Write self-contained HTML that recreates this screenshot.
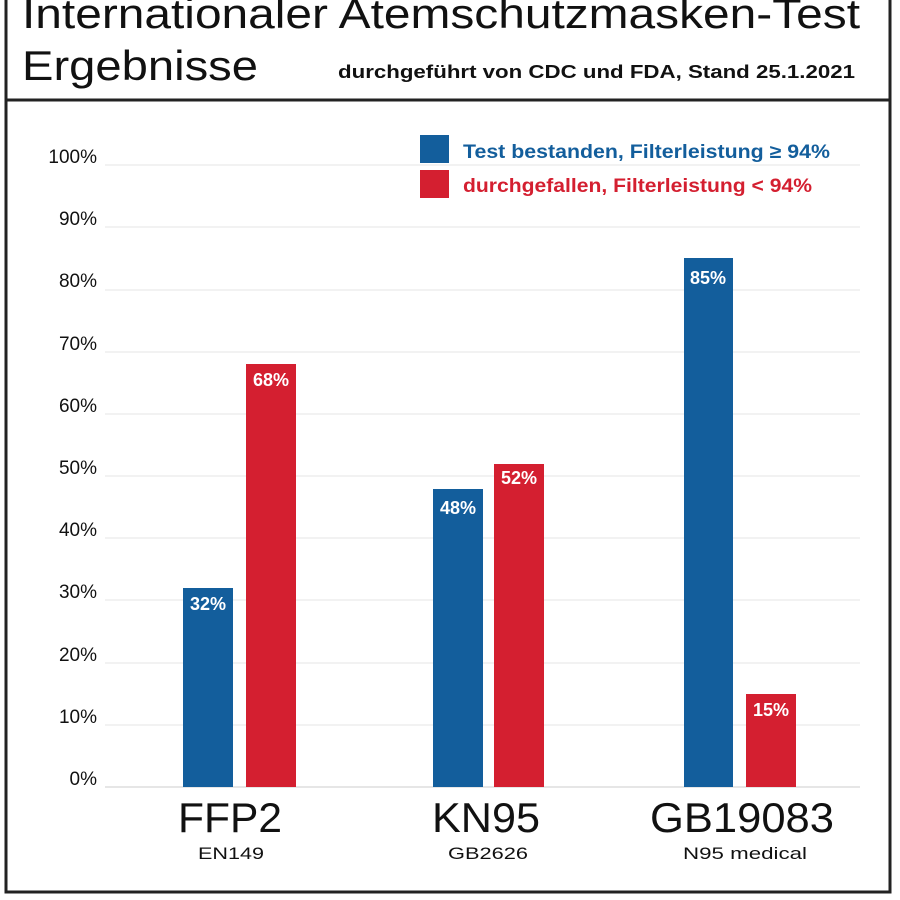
<!DOCTYPE html>
<html><head><style>
body{margin:0;background:#fff;}
svg{display:block;font-family:"Liberation Sans",Arial,sans-serif;}
</style></head><body>
<svg width="900" height="900" viewBox="0 0 900 900">
<rect x="6" y="-10" width="884" height="902" fill="none" stroke="#222" stroke-width="3"/>
<line x1="6" y1="100" x2="890" y2="100" stroke="#222" stroke-width="3"/>
<g lengthAdjust="spacingAndGlyphs">
<text x="22" y="28" font-size="42" fill="#111" textLength="838" lengthAdjust="spacingAndGlyphs">Internationaler Atemschutzmasken-Test</text>
<text x="22" y="80" font-size="42" fill="#111" textLength="236" lengthAdjust="spacingAndGlyphs">Ergebnisse</text>
<text x="338" y="78" font-size="18" font-weight="bold" fill="#111" textLength="517" lengthAdjust="spacingAndGlyphs">durchgeführt von CDC und FDA, Stand 25.1.2021</text>
</g>
<g stroke="#e6e6e6" stroke-width="1">
<line x1="105" y1="165" x2="860" y2="165"/><line x1="105" y1="227" x2="860" y2="227"/>
<line x1="105" y1="290" x2="860" y2="290"/><line x1="105" y1="352" x2="860" y2="352"/>
<line x1="105" y1="414" x2="860" y2="414"/><line x1="105" y1="476" x2="860" y2="476"/>
<line x1="105" y1="538" x2="860" y2="538"/><line x1="105" y1="600" x2="860" y2="600"/>
<line x1="105" y1="663" x2="860" y2="663"/><line x1="105" y1="725" x2="860" y2="725"/>
<line x1="105" y1="787" x2="860" y2="787" stroke-width="2"/>
</g>
<g font-size="19" fill="#111" text-anchor="end">
<text x="97" y="163">100%</text><text x="97" y="225">90%</text><text x="97" y="287">80%</text>
<text x="97" y="350">70%</text><text x="97" y="412">60%</text><text x="97" y="474">50%</text>
<text x="97" y="536">40%</text><text x="97" y="598">30%</text><text x="97" y="661">20%</text>
<text x="97" y="723">10%</text><text x="97" y="785">0%</text>
</g>
<rect x="420" y="135" width="29" height="28" fill="#135e9c"/>
<text x="463" y="158" font-size="19" font-weight="bold" fill="#135e9c" textLength="367" lengthAdjust="spacingAndGlyphs">Test bestanden, Filterleistung ≥ 94%</text>
<rect x="420" y="170" width="29" height="28" fill="#d41f30"/>
<text x="463" y="192" font-size="19" font-weight="bold" fill="#d41f30" textLength="349" lengthAdjust="spacingAndGlyphs">durchgefallen, Filterleistung &lt; 94%</text>
<g fill="#135e9c">
<rect x="183" y="588" width="50" height="199"/>
<rect x="433" y="489" width="50" height="298"/>
<rect x="684" y="258" width="49" height="529"/>
</g>
<g fill="#d41f30">
<rect x="246" y="364" width="50" height="423"/>
<rect x="494" y="464" width="50" height="323"/>
<rect x="746" y="694" width="50" height="93"/>
</g>
<g font-size="18" font-weight="bold" fill="#fff" text-anchor="middle">
<text x="208" y="610">32%</text><text x="271" y="386">68%</text>
<text x="458" y="514">48%</text><text x="519" y="484">52%</text>
<text x="708" y="284">85%</text><text x="771" y="716">15%</text>
</g>
<g font-size="42" fill="#111">
<text x="178" y="832" textLength="104" lengthAdjust="spacingAndGlyphs">FFP2</text>
<text x="432" y="832" textLength="108" lengthAdjust="spacingAndGlyphs">KN95</text>
<text x="650" y="832" textLength="184" lengthAdjust="spacingAndGlyphs">GB19083</text>
</g>
<g font-size="17" fill="#111">
<text x="198" y="859" textLength="66" lengthAdjust="spacingAndGlyphs">EN149</text>
<text x="448" y="859" textLength="80" lengthAdjust="spacingAndGlyphs">GB2626</text>
<text x="683" y="859" textLength="124" lengthAdjust="spacingAndGlyphs">N95 medical</text>
</g>
</svg>
</body></html>
